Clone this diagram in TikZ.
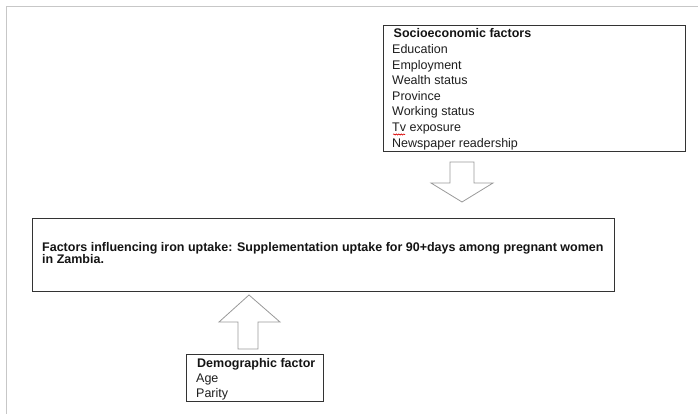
\documentclass[tikz,border=0pt]{standalone}
\usepackage{fontspec}
\setmainfont{Liberation Sans}
\usetikzlibrary{decorations.pathmorphing}
\begin{document}
\begin{tikzpicture}[x=1pt,y=-1pt,
  box/.style={draw=black!80, line width=0.8pt, fill=white, inner sep=0pt, anchor=north west},
  blockarrow/.style={draw=black!40, line width=0.8pt, fill=white, line join=miter},
  txt/.style={inner sep=0pt, anchor=base west, text=black!88, font=\fontsize{12.5}{15}\selectfont},
  btxt/.style={txt, text=black!92, font=\fontsize{12.5}{15}\selectfont\bfseries}]
\useasboundingbox (0,0) rectangle (698,414);
% page edge
\draw[black!22, line width=1pt] (6,414) -- (6,7) -- (698,7);
% boxes
\node[box, minimum width=302pt, minimum height=126pt] (soc) at (383,25) {};
\node[box, minimum width=582pt, minimum height=73pt] (main) at (32,218) {};
\node[box, minimum width=137pt, minimum height=47pt] (demo) at (186,354) {};
% socioeconomic text
\node[btxt] (s0) at (393.5,38) {Socioeconomic factors};
\node[txt] (s1) at (392,53.6) {Education};
\node[txt] (s2) at (392,69.2) {Employment};
\node[txt] (s3) at (392,84.8) {Wealth status};
\node[txt] (s4) at (392,100.4) {Province};
\node[txt] (s5) at (392,116) {Working status};
\node[txt] (s6) at (392,131.6) {Tv exposure};
\node[txt] (s7) at (392,147.2) {Newspaper readership};
\draw[red!85!black, line width=0.6pt, decorate, decoration={snake, amplitude=0.6pt, segment length=2.5pt}] (393,134.5) -- (405,134.5);
% main text
\node[btxt] (m1) at (42,251) {Factors influencing iron uptake: Supplementation uptake for 90+days among pregnant women};
\node[btxt] (m2) at (42,263.5) {in Zambia.};
% demographic text
\node[btxt] (d0) at (197,367) {Demographic factor};
\node[txt] (d1) at (196,382) {Age};
\node[txt] (d2) at (196,397) {Parity};
% block arrows
\draw[blockarrow] (450,162) -- (474,162) -- (474,183) -- (493,183) -- (462,202) -- (431,183) -- (450,183) -- cycle;
\draw[blockarrow] (238,349) -- (238,322) -- (219,322) -- (249,295) -- (280,322) -- (258,322) -- (258,349) -- cycle;
\end{tikzpicture}
\end{document}
